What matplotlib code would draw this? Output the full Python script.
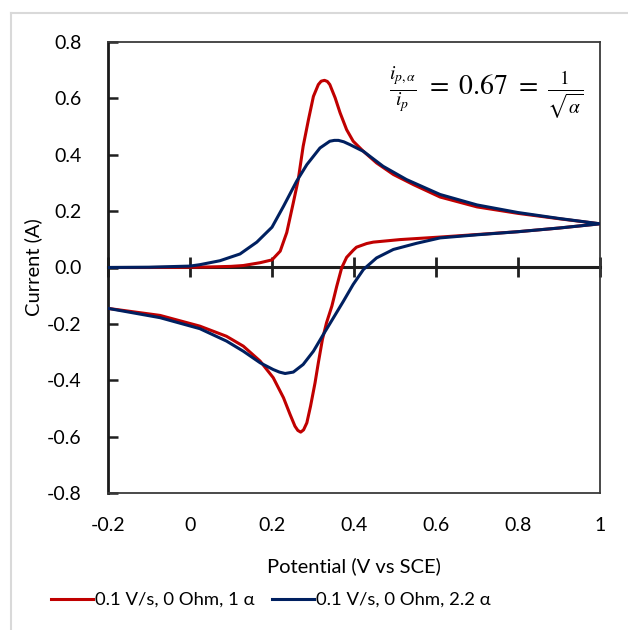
import matplotlib
matplotlib.use("Agg")
import matplotlib.pyplot as plt
from matplotlib.lines import Line2D

plt.rcParams['font.family'] = ['Lato', 'DejaVu Sans']
plt.rcParams['mathtext.fontset'] = 'stix'

# forward sweep (-0.2 -> 1.0 V)
fwd_red_E = [-0.2, -0.1, 0.0, 0.05, 0.1, 0.13, 0.171, 0.2, 0.22, 0.236, 0.252, 0.264,
             0.276, 0.289, 0.301, 0.313, 0.32, 0.328, 0.335, 0.341, 0.354, 0.366, 0.382,
             0.398, 0.423, 0.455, 0.496, 0.545, 0.61, 0.7, 0.8, 0.9, 1.0]
fwd_red_I = [0.0, 0.0, 0.001, 0.002, 0.004, 0.007, 0.017, 0.027, 0.058, 0.124, 0.23, 0.312,
             0.43, 0.525, 0.607, 0.649, 0.661, 0.664, 0.66, 0.649, 0.602, 0.549, 0.489,
             0.448, 0.412, 0.371, 0.33, 0.294, 0.25, 0.215, 0.192, 0.173, 0.155]

fwd_blue_E = [-0.2, -0.1, 0.0, 0.024, 0.073, 0.122, 0.163, 0.2, 0.228, 0.26, 0.285, 0.317,
              0.341, 0.352, 0.362, 0.375, 0.39, 0.423, 0.471, 0.528, 0.61, 0.7, 0.8, 0.9, 1.0]
fwd_blue_I = [0.0, 0.001, 0.005, 0.01, 0.024, 0.048, 0.09, 0.143, 0.217, 0.306, 0.365, 0.424,
              0.448, 0.451, 0.451, 0.446, 0.436, 0.412, 0.359, 0.312, 0.259, 0.222, 0.195,
              0.174, 0.155]

# reverse sweep (1.0 -> -0.2 V)
rev_red_E = [1.0, 0.9, 0.8, 0.7, 0.61, 0.512, 0.447, 0.431, 0.406, 0.398, 0.382, 0.37,
             0.358, 0.346, 0.333, 0.323, 0.313, 0.305, 0.294, 0.285, 0.277, 0.27, 0.263,
             0.256, 0.244, 0.228, 0.203, 0.171, 0.13, 0.089, 0.024, -0.073, -0.2]
rev_red_I = [0.155, 0.14, 0.127, 0.117, 0.108, 0.099, 0.09, 0.085, 0.072, 0.061, 0.036, -0.001,
             -0.066, -0.137, -0.196, -0.255, -0.338, -0.409, -0.492, -0.551, -0.576, -0.584,
             -0.578, -0.563, -0.521, -0.462, -0.391, -0.332, -0.279, -0.244, -0.208, -0.17,
             -0.145]

rev_blue_E = [1.0, 0.9, 0.8, 0.7, 0.61, 0.553, 0.496, 0.455, 0.423, 0.398, 0.374, 0.35,
              0.325, 0.301, 0.276, 0.252, 0.232, 0.218, 0.203, 0.171, 0.13, 0.089, 0.024,
              -0.073, -0.2]
rev_blue_I = [0.155, 0.14, 0.127, 0.116, 0.105, 0.086, 0.064, 0.034, -0.007, -0.06, -0.12,
              -0.178, -0.238, -0.297, -0.344, -0.371, -0.376, -0.371, -0.362, -0.338,
              -0.297, -0.261, -0.217, -0.178, -0.145]

labels = ["0.1 V/s, 0 Ohm, 1 \u03b1", "0.1 V/s, 0 Ohm, 2.2 \u03b1"]
colors = ["#C00000", "#002060"]
x_ticks = [-0.2, 0, 0.2, 0.4, 0.6, 0.8, 1]
x_ticklabels = ["-0.2", "0", "0.2", "0.4", "0.6", "0.8", "1"]
y_ticks = [-0.8, -0.6, -0.4, -0.2, 0.0, 0.2, 0.4, 0.6, 0.8]
y_ticklabels = ["-0.8", "-0.6", "-0.4", "-0.2", "0.0", "0.2", "0.4", "0.6", "0.8"]

fig = plt.figure(figsize=(6.28, 6.30), dpi=100)
ax = fig.add_axes([108 / 628, 1 - 493 / 630, 492 / 628, 451 / 630])

ax.plot(fwd_red_E + rev_red_E, fwd_red_I + rev_red_I, color=colors[0], lw=2.2,
        label=labels[0], solid_joinstyle='round', zorder=3)
ax.plot(fwd_blue_E + rev_blue_E, fwd_blue_I + rev_blue_I, color=colors[1], lw=2.2,
        label=labels[1], solid_joinstyle='round', zorder=3)

ax.set_xlim(-0.2, 1)
ax.set_ylim(-0.8, 0.8)

# y axis
ax.set_yticks(y_ticks)
ax.set_yticklabels(y_ticklabels)
ax.tick_params(axis='y', direction='in', length=7, width=1.8, pad=19,
               labelsize=14, colors='#1f1f1f', labelcolor='black')

# x labels at the bottom, tick marks on the zero line
ax.set_xticks(x_ticks)
ax.set_xticklabels(x_ticklabels)
ax.tick_params(axis='x', length=0, pad=17, labelsize=14)
zero_axis = ax.secondary_xaxis(0.5)
zero_axis.set_xticks(x_ticks)
zero_axis.tick_params(axis='x', direction='inout', length=15, width=2,
                      color='#1f1f1f', labelbottom=False, labeltop=False)
for sp in zero_axis.spines.values():
    sp.set_linewidth(2.2)
    sp.set_color('#1f1f1f')
zero_axis.set_zorder(2)

for side in ['top', 'right', 'bottom']:
    ax.spines[side].set_linewidth(1.3)
    ax.spines[side].set_color('#3a3a3a')
ax.spines['left'].set_linewidth(2)
ax.spines['left'].set_color('#1a1a1a')

ax.set_xlabel("Potential (V vs SCE)", fontsize=14.5, labelpad=17)
ax.set_ylabel("Current (A)", fontsize=14.5)
ax.yaxis.set_label_coords(-0.133, 0.5)

ax.text(0.768, 0.887,
        r"$\frac{i_{p,\alpha}}{i_p}\ =\ 0.67\ =\ \frac{1}{\sqrt{\alpha}}$",
        transform=ax.transAxes, ha='center', va='center', fontsize=20)

fig.legend(loc='center', bbox_to_anchor=(271 / 628, 1 - 600 / 630), ncol=2, frameon=False,
           fontsize=13.3, handlelength=2.27, handletextpad=0.12, columnspacing=0.92)

# outer chart frame
fig.add_artist(Line2D([11 / 628, 11 / 628], [0, 1 - 13 / 630], color='#D9D9D9', lw=1.5))
fig.add_artist(Line2D([11 / 628, 1], [1 - 13 / 630, 1 - 13 / 630], color='#D9D9D9', lw=1.5))

fig.savefig("out.png", dpi=100)
